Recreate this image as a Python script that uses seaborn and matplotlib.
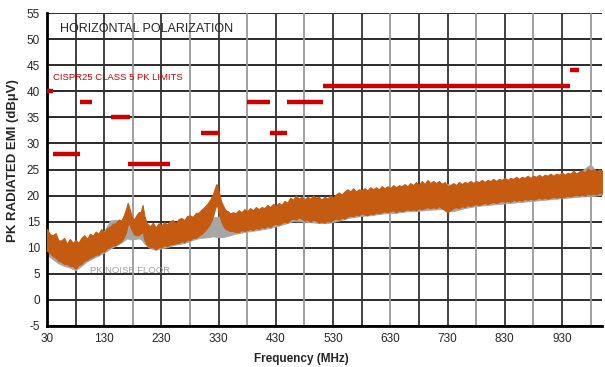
import matplotlib
matplotlib.use('Agg')
import matplotlib.pyplot as plt
import pandas as pd
import seaborn as sns

emi_freq = [30, 35, 40, 45, 50, 55, 60, 65, 70, 75, 80, 85, 90, 95, 100, 105, 110, 115,
            120, 125, 130, 135, 140, 145, 150, 155, 160, 165, 168, 171, 174, 178, 182,
            186, 190, 194, 197, 200, 204, 210, 215, 220, 225, 230, 235, 240, 245, 250,
            255, 260, 265, 270, 275, 280, 285, 290, 295, 300, 305, 310, 315, 318, 321,
            324, 326, 328, 331, 334, 338, 342, 346, 350, 355, 360, 365, 370, 375, 380,
            385, 390, 395, 400, 405, 410, 415, 420, 425, 430, 435, 440, 445, 450, 455,
            460, 465, 470, 475, 480, 485, 490, 495, 500, 505, 510, 515, 520, 525, 530,
            535, 540, 545, 550, 555, 560, 565, 570, 575, 580, 585, 590, 595, 600, 605,
            610, 615, 620, 625, 630, 635, 640, 645, 650, 655, 660, 665, 670, 675, 680,
            685, 690, 695, 700, 705, 710, 715, 720, 725, 730, 735, 740, 745, 750, 755,
            760, 765, 770, 775, 780, 785, 790, 795, 800, 805, 810, 815, 820, 825, 830,
            835, 840, 845, 850, 855, 860, 865, 870, 875, 880, 885, 890, 895, 900, 905,
            910, 915, 920, 925, 930, 935, 940, 945, 950, 955, 960, 965, 970, 975, 980,
            985, 990, 995, 1000]
emi_hi = [13.6, 12.6, 12.4, 12.8, 11.4, 11.4, 11.9, 10.7, 11.7, 10.9, 11.5, 10.9, 11.9,
          12.4, 11.7, 12.7, 12.3, 13.1, 12.7, 13.6, 12.9, 13.8, 14.0, 14.6, 14.7, 15.4,
          15.2, 16.4, 17.4, 18.6, 17.6, 16.0, 15.4, 16.2, 16.8, 16.9, 18.2, 16.2, 14.8,
          14.1, 14.8, 13.9, 14.7, 14.3, 14.9, 14.5, 15.1, 15.3, 14.7, 15.5, 15.7, 15.3,
          16.1, 16.2, 15.9, 16.7, 16.7, 17.3, 17.8, 18.4, 19.2, 19.8, 20.6, 21.6, 22.2,
          21.8, 20.4, 19.0, 18.0, 17.2, 17.0, 16.6, 16.8, 16.6, 17.2, 16.8, 17.4, 17.0,
          17.6, 17.2, 17.8, 17.4, 17.8, 17.6, 18.2, 17.8, 18.4, 18.0, 18.6, 18.2, 19.0,
          18.6, 19.6, 19.2, 20.0, 19.4, 19.8, 19.2, 19.8, 19.4, 20.0, 19.6, 19.8, 19.2,
          19.8, 19.4, 20.0, 19.6, 20.2, 20.6, 20.2, 20.8, 21.2, 20.8, 21.4, 20.8, 21.2,
          21.0, 21.4, 21.0, 21.6, 21.2, 21.6, 21.2, 21.8, 21.4, 21.8, 21.4, 22.0, 21.6,
          22.0, 21.8, 22.2, 21.8, 22.4, 22.0, 22.6, 22.0, 22.8, 22.2, 23.0, 22.4, 22.8,
          22.4, 22.8, 22.2, 22.6, 21.8, 22.0, 22.4, 22.0, 22.6, 22.2, 22.6, 22.4, 22.8,
          22.4, 22.8, 22.6, 23.0, 22.6, 23.0, 22.8, 23.2, 22.8, 23.2, 23.0, 23.4, 23.0,
          23.4, 23.2, 23.6, 23.2, 23.6, 23.4, 23.8, 23.4, 23.8, 23.6, 24.0, 23.6, 24.0,
          23.8, 24.2, 23.8, 24.2, 24.0, 24.4, 24.0, 24.4, 24.2, 24.8, 24.2, 24.6, 24.8,
          24.4, 25.2, 24.8, 25.0, 24.6, 25.0, 24.8]
emi_lo = [9.4, 9.0, 8.4, 8.1, 7.5, 7.3, 6.9, 6.9, 6.5, 6.5, 6.0, 6.7, 6.9, 7.5, 7.7, 8.1,
          8.3, 8.7, 8.7, 9.3, 9.3, 9.9, 10.1, 10.5, 10.5, 10.9, 11.3, 12.2, 13.0, 14.4,
          14.6, 13.4, 12.6, 12.4, 12.4, 12.8, 13.2, 11.6, 10.6, 10.1, 10.1, 9.7, 10.1,
          10.1, 10.5, 10.3, 10.7, 10.7, 10.9, 10.9, 11.3, 11.1, 11.5, 11.5, 11.9, 11.9,
          12.3, 12.6, 13.2, 13.8, 14.6, 15.4, 16.4, 17.6, 18.2, 17.8, 16.4, 15.2, 14.2,
          13.6, 13.4, 13.2, 13.2, 13.0, 13.0, 13.4, 13.2, 13.4, 13.6, 13.4, 13.8, 13.6,
          14.0, 13.8, 14.2, 14.0, 14.4, 14.6, 14.4, 14.8, 15.0, 14.8, 15.4, 15.6, 15.4,
          15.8, 15.6, 15.2, 15.4, 15.0, 15.4, 15.2, 14.8, 15.0, 14.8, 15.2, 15.0, 15.4,
          15.6, 15.4, 15.8, 15.6, 16.0, 16.2, 16.0, 16.4, 16.2, 16.6, 16.4, 16.2, 16.6,
          16.4, 16.8, 16.6, 16.8, 17.0, 16.8, 17.0, 17.2, 16.8, 17.2, 17.0, 17.2, 17.4,
          17.2, 17.4, 17.2, 17.6, 17.4, 17.6, 17.8, 17.6, 17.8, 17.6, 18.0, 17.6, 17.2,
          16.8, 17.2, 17.6, 17.8, 17.6, 18.0, 17.8, 18.2, 18.0, 18.2, 18.4, 18.2, 18.4,
          18.6, 18.4, 18.6, 18.8, 18.6, 18.8, 19.0, 18.8, 19.0, 18.8, 19.2, 19.0, 19.2,
          19.0, 19.4, 19.2, 19.4, 19.2, 19.4, 19.6, 19.4, 19.6, 19.4, 19.6, 19.8, 19.6,
          19.8, 19.6, 19.8, 20.0, 19.8, 20.0, 20.2, 20.0, 20.2, 20.0, 20.4, 20.2, 20.4,
          20.2, 20.6, 20.4]

# Piso de ruido (PK NOISE FLOOR)
floor_freq = [30, 40, 50, 60, 70, 80, 90, 100, 110, 120, 130, 140, 150, 160, 165, 170,
              175, 180, 190, 195, 200, 210, 220, 230, 240, 250, 260, 270, 280, 290, 300,
              310, 320, 330, 340, 350, 360, 380, 400, 420, 440, 460, 480, 500, 520, 540,
              560, 580, 600, 620, 640, 660, 680, 700, 720, 740, 760, 780, 800, 820, 840,
              860, 880, 900, 920, 940, 960, 980, 990, 1000]
floor_lo = [8.6, 7.8, 7.0, 6.5, 6.2, 5.7, 6.5, 7.4, 8.0, 8.5, 9.1, 9.8, 10.4, 11.0, 11.4,
            11.8, 11.6, 11.6, 11.8, 11.6, 10.8, 9.9, 9.6, 9.9, 10.1, 10.5, 10.7, 10.9,
            11.3, 11.7, 11.9, 12.0, 12.2, 12.0, 12.1, 12.4, 12.7, 13.1, 13.4, 13.8, 14.4,
            15.1, 15.0, 14.8, 14.7, 15.2, 15.8, 16.1, 16.3, 16.6, 16.7, 17.0, 17.1, 17.3,
            17.4, 17.0, 17.6, 18.0, 18.2, 18.4, 18.6, 18.8, 19.0, 19.2, 19.4, 19.6, 19.8,
            19.9, 20.0, 20.2]
floor_hi = [12.8, 12.0, 11.4, 11.0, 11.0, 10.8, 11.2, 11.8, 12.2, 12.6, 13.2, 15.2, 15.4,
            14.8, 14.6, 15.4, 14.6, 14.0, 14.2, 14.6, 13.6, 13.6, 13.6, 14.0, 14.2, 14.4,
            14.8, 15.0, 15.6, 15.8, 16.2, 17.0, 15.8, 16.0, 15.8, 15.6, 15.8, 16.4, 16.8,
            17.2, 17.6, 18.6, 19.2, 19.0, 19.4, 19.8, 20.4, 20.6, 21.2, 21.4, 21.6, 21.8,
            22.0, 22.2, 22.4, 22.0, 22.2, 22.4, 22.6, 22.8, 23.0, 23.2, 23.4, 23.6, 23.8,
            24.0, 24.4, 26.0, 24.6, 24.8]

# Limites CISPR25 clase 5 PK
lim_start = [30, 41, 87, 142, 171, 300, 380, 420, 450, 512, 944]
lim_stop = [41, 88, 108, 175, 245, 330, 420, 450, 512, 944, 960]
lim_level = [40, 28, 38, 35, 26, 32, 38, 32, 38, 41, 44]

x_ticks = list(range(30, 1000, 100))
y_ticks = list(range(-5, 56, 5))

ORANGE = '#C55A11'
GRAY = '#A6A6A6'
RED = '#CC0000'


def build_limits_df():
    rows = []
    for i, (a, b, lvl) in enumerate(zip(lim_start, lim_stop, lim_level)):
        rows.append({'seg': i, 'freq': a, 'level': lvl})
        rows.append({'seg': i, 'freq': b, 'level': lvl})
    return pd.DataFrame(rows)


def plot_emi():
    sns.set_style('white')
    plt.rcParams['font.family'] = ['Liberation Sans', 'DejaVu Sans']
    plt.rcParams['axes.unicode_minus'] = False

    fig = plt.figure(figsize=(6.05, 3.67), dpi=100)
    ax = fig.add_axes([47 / 605, 41 / 367, 555 / 605, 313 / 367])

    # Rejilla
    for y in y_ticks:
        ax.axhline(y, color='#1a1a1a', lw=1.3, zorder=0)
    light = [180, 280, 380, 480, 630, 780, 880, 980]
    for x in range(80, 1000, 50):
        ax.axvline(x, color='#999999' if x in light else '#333333', lw=1.3, zorder=0)

    # Trazas
    ax.fill_between(floor_freq, floor_lo, floor_hi, color=GRAY, lw=0.6, zorder=2)
    ax.fill_between(emi_freq, emi_lo, emi_hi, color=ORANGE, lw=0.8, zorder=3)

    # Limites
    sns.lineplot(data=build_limits_df(), x='freq', y='level', units='seg',
                 estimator=None, color=RED, lw=3.2, ax=ax, zorder=4,
                 solid_capstyle='butt')

    ax.set_xlim(30, 1000)
    ax.set_ylim(-5, 55)
    ax.set_xticks(x_ticks)
    ax.set_yticks(y_ticks)
    ax.tick_params(length=0, labelsize=8.5, pad=5)
    for s in ['top', 'right']:
        ax.spines[s].set_visible(False)
    for s in ['left', 'bottom']:
        ax.spines[s].set_color('black')
        ax.spines[s].set_linewidth(2)

    ax.set_xlabel('Frequency (MHz)', fontsize=8.5, fontweight='bold')
    ax.xaxis.set_label_coords(0.459, -0.086)
    ax.set_ylabel('PK RADIATED EMI (dBµV)', fontsize=9.5, fontweight='bold')
    ax.yaxis.set_label_coords(-0.05, 0.53)

    ax.text(52, 51.9, 'HORIZONTAL POLARIZATION', fontsize=9, va='center')
    ax.text(40.5, 42.7, 'CISPR25 CLASS 5 PK LIMITS', fontsize=6.8, va='center', color=RED)
    ax.text(105, 5.7, 'PK NOISE FLOOR', fontsize=6.8, va='center', color='#A0A0A0')

    fig.savefig('out.png', dpi=100)


if __name__ == "__main__":
    plot_emi()
